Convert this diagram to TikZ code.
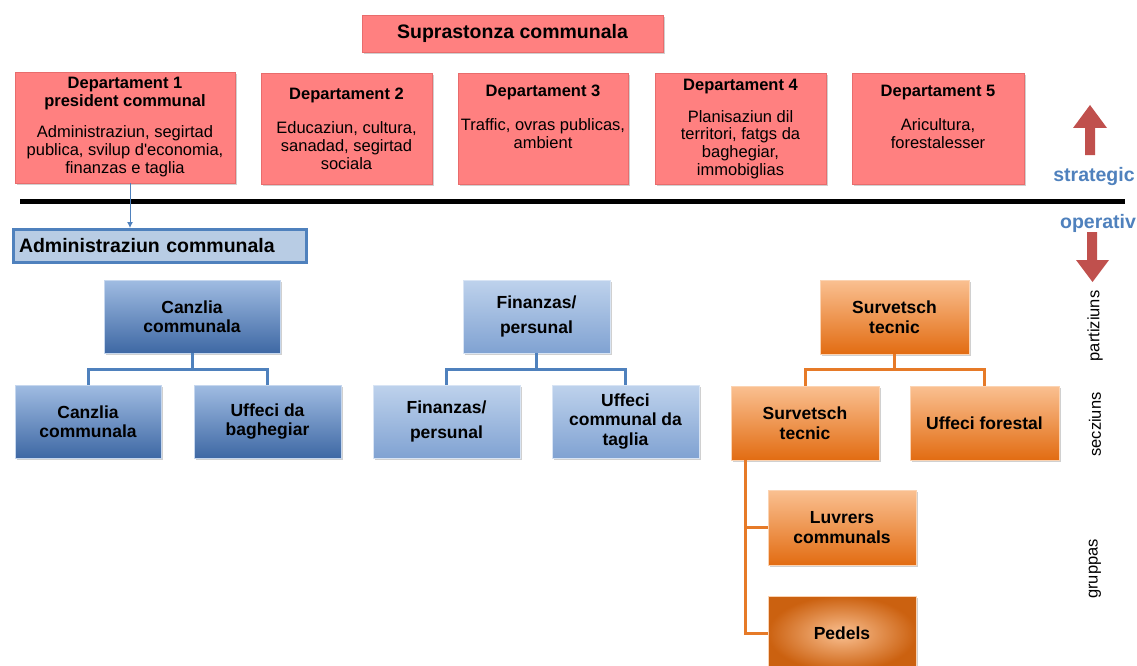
\documentclass[tikz,border=0pt]{standalone}
\usepackage{fontspec}
\setmainfont{Liberation Sans}
\usetikzlibrary{shadows,arrows.meta}
\definecolor{pinkfill}{RGB}{255,128,128}
\definecolor{pinkline}{RGB}{232,108,108}
\definecolor{accblue}{RGB}{79,129,189}
\definecolor{admfill}{RGB}{184,204,228}
\definecolor{redarrow}{RGB}{192,80,77}
\definecolor{dbtop}{RGB}{160,188,226}
\definecolor{dbbot}{RGB}{62,104,164}
\definecolor{lbtop}{RGB}{190,210,236}
\definecolor{lbmid}{RGB}{240,245,252}
\definecolor{lbbot}{RGB}{128,162,210}
\definecolor{ortop}{RGB}{250,192,145}
\definecolor{orbot}{RGB}{226,108,18}
\definecolor{orline}{RGB}{230,122,40}
\tikzset{
  x=1pt, y=-1pt,
  shadowed/.style={drop shadow={shadow xshift=2pt, shadow yshift=-2pt, opacity=0.3, fill=black!60}},
  deptbox/.style={draw=pinkline, fill=pinkfill, line width=0.8pt, shadowed},
  depttext/.style={align=center, font=\fontsize{16.5}{17.8}\selectfont, inner sep=0pt},
  darkbox/.style={draw=dbtop!60!white, line width=0.8pt, top color=dbtop, bottom color=dbbot, shadowed,
     minimum width=146pt, minimum height=73pt, align=center, inner sep=2pt,
     font=\fontsize{17.5}{19.5}\selectfont\bfseries},
  lightbox/.style={draw=lbtop!60!white, line width=0.8pt, top color=lbtop, middle color=lbmid, bottom color=lbbot, shadowed,
     minimum width=147pt, minimum height=73pt, align=center, inner sep=2pt,
     font=\fontsize{17.5}{19.5}\selectfont\bfseries},
  orbox/.style={draw=ortop!70!white, line width=0.8pt, top color=ortop, bottom color=orbot, shadowed,
     minimum width=148pt, minimum height=74pt, align=center, inner sep=2pt,
     font=\fontsize{17.5}{19.5}\selectfont\bfseries},
  bconn/.style={draw=accblue, line width=3pt},
  oconn/.style={draw=orline, line width=3pt},
  sidelabel/.style={rotate=90, font=\fontsize{16.5}{18}\selectfont, inner sep=0pt},
  bluelabel/.style={text=accblue, font=\fontsize{19.5}{21}\selectfont\bfseries, inner sep=0pt},
}
\begin{document}
\begin{tikzpicture}
\useasboundingbox[fill=white] (0,0) rectangle (1137,666);
\clip (0,0) rectangle (1137,666);

% top box
\node[deptbox, minimum width=301pt, minimum height=37pt, font=\fontsize{19.5}{21}\selectfont\bfseries] (supra) at (512.5,33.5) {Suprastonza communala};

% departments
\node[deptbox, minimum width=220pt, minimum height=111pt] (d1) at (125,127.5) {};
\node[depttext] (d1t) at (125,127) {\textbf{Departament 1}\\\textbf{president communal}\\[14pt]Administraziun, segirtad\\publica, svilup d\textquotesingle economia,\\finanzas e taglia};
\node[deptbox, minimum width=171pt, minimum height=111pt] (d2) at (346.5,128.5) {};
\node[depttext] (d2t) at (346.5,129) {\textbf{Departament 2}\\[16pt]Educaziun, cultura,\\sanadad, segirtad\\sociala};
\node[deptbox, minimum width=170pt, minimum height=111pt] (d3) at (543,128.5) {};
\node[depttext] (d3t) at (543,117) {\textbf{Departament 3}\\[16pt]Traffic, ovras publicas,\\ambient};
\node[deptbox, minimum width=171pt, minimum height=111pt] (d4) at (740.5,128.5) {};
\node[depttext] (d4t) at (740.5,129) {\textbf{Departament 4}\\[14pt]Planisaziun dil\\territori, fatgs da\\baghegiar,\\immobiglias};
\node[deptbox, minimum width=172pt, minimum height=111pt] (d5) at (938,128.5) {};
\node[depttext] (d5t) at (938,117) {\textbf{Departament 5}\\[16pt]Aricultura,\\forestalesser};

% divider
\coordinate (lineL) at (20,201);
\coordinate (lineR) at (1125,201);
\draw[line width=5pt, black] (lineL) -- (lineR);

% admin
\node[draw=accblue, line width=3pt, fill=admfill, text width=281pt, minimum height=33pt, align=left,
      anchor=west, inner xsep=6pt, inner ysep=0pt, font=\fontsize{19.5}{21}\selectfont\bfseries] (adm) at (11.5,246) {Administraziun communala};
\coordinate (admTop) at (130,228);
\coordinate (d1Bot) at (130,183);
\draw[accblue, line width=1pt, -{Latex[length=6pt,width=6pt]}] (d1Bot) -- (admTop);

% red arrows and labels
\fill[redarrow] (1085,155) -- (1085,128) -- (1073,128) -- (1090,105) -- (1107,128) -- (1095,128) -- (1095,155) -- cycle;
\fill[redarrow] (1087,232) -- (1087,260) -- (1076,260) -- (1092.5,282) -- (1109,260) -- (1097,260) -- (1097,232) -- cycle;
\node[bluelabel] (strat) at (1094,177) {strategic};
\node[bluelabel] (oper) at (1098,223) {operativ};
\node[sidelabel] (part) at (1095,326) {partiziuns};
\node[sidelabel] (secz) at (1095,424.5) {secziuns};
\node[sidelabel] (grup) at (1095,569) {gruppas};

% blue tree
\node[darkbox, minimum width=176pt] (ct) at (192,316.5) {Canzlia\\communala};
\node[darkbox] (cc) at (88,421.5) {Canzlia\\communala};
\node[darkbox, minimum width=147pt] (ub) at (267.5,421.5) {Uffeci da\\baghegiar};
\draw[bconn] (ct.south) -- ++(0,16) coordinate (ctm);
\draw[bconn] (ctm) -| (cc.north);
\draw[bconn] (ctm) -| (ub.north);

% light blue tree
\node[lightbox] (fp) at (536.5,316.5) {Finanzas/\\[5pt]persunal};
\node[lightbox] (fpc) at (446.5,421.5) {Finanzas/\\[5pt]persunal};
\node[lightbox] (uct) at (625.5,421.5) {Uffeci\\communal da\\taglia};
\draw[bconn] (fp.south) -- ++(0,16) coordinate (fpm);
\draw[bconn] (fpm) -| (fpc.north);
\draw[bconn] (fpm) -| (uct.north);

% orange tree
\node[orbox, minimum width=149pt] (st) at (894.5,317) {Survetsch\\tecnic};
\node[orbox] (stc) at (805,423) {Survetsch\\tecnic};
\node[orbox, minimum width=149pt] (uf) at (984.5,423) {Uffeci forestal};
\draw[oconn] (st.south) -- ++(0,15) coordinate (stm);
\draw[oconn] (stm) -| (stc.north);
\draw[oconn] (stm) -| (uf.north);
\node[orbox, minimum height=75pt] (lc) at (842,527.5) {Luvrers\\communals};
\node[draw=ortop!70!white, line width=0.8pt, inner color=ortop, outer color=orbot!90!black, shadowed,
     minimum width=148pt, minimum height=75pt, font=\fontsize{17.5}{19.5}\selectfont\bfseries] (pd) at (842,633.5) {Pedels};
\coordinate (sv) at ([xshift=15pt]stc.south west);
\draw[oconn] (sv) |- (lc.west);
\draw[oconn] (sv) |- (pd.west);
\end{tikzpicture}
\end{document}
